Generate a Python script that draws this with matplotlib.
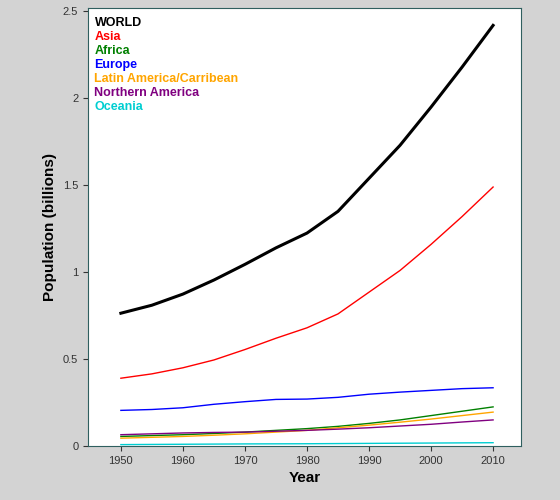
import matplotlib
matplotlib.use("Agg")
import matplotlib.pyplot as plt

plt.rcParams["font.family"] = ["Liberation Sans", "DejaVu Sans"]

years = [1950, 1955, 1960, 1965, 1970, 1975, 1980, 1985, 1990, 1995, 2000, 2005, 2010]
world = [0.764, 0.81, 0.874, 0.955, 1.045, 1.14, 1.225, 1.35, 1.54, 1.73, 1.95, 2.18, 2.42]
asia = [0.39, 0.415, 0.45, 0.495, 0.555, 0.62, 0.68, 0.76, 0.885, 1.01, 1.16, 1.32, 1.49]
africa = [0.055, 0.06, 0.065, 0.072, 0.08, 0.09, 0.10, 0.113, 0.13, 0.15, 0.175, 0.20, 0.225]
europe = [0.205, 0.21, 0.22, 0.24, 0.255, 0.268, 0.27, 0.28, 0.298, 0.31, 0.32, 0.33, 0.335]
latin = [0.045, 0.05, 0.055, 0.062, 0.07, 0.08, 0.09, 0.105, 0.12, 0.137, 0.155, 0.175, 0.195]
north_america = [0.065, 0.07, 0.075, 0.078, 0.08, 0.085, 0.09, 0.097, 0.105, 0.115, 0.125, 0.138, 0.15]
oceania = [0.008, 0.009, 0.01, 0.011, 0.012, 0.0125, 0.013, 0.014, 0.015, 0.016, 0.017, 0.018, 0.019]

series = [
    ("WORLD", world, "black", 2.2),
    ("Asia", asia, "red", 1.0),
    ("Africa", africa, "green", 1.0),
    ("Europe", europe, "blue", 1.0),
    ("Latin America/Carribean", latin, "orange", 1.0),
    ("Northern America", north_america, "purple", 1.0),
    ("Oceania", oceania, "darkturquoise", 1.0),
]

fig = plt.figure(figsize=(5.6, 5.0), dpi=100)
fig.patch.set_facecolor("#d3d3d3")
ax = fig.add_axes([88 / 560, 54 / 500, 433 / 560, 438 / 500])
ax.set_facecolor("white")

for name, vals, color, lw in series:
    ax.plot(years, vals, color=color, lw=lw)

ax.set_xlim(1944.7, 2014.5)
ax.set_ylim(0, 2.52)
ax.set_xticks([1950, 1960, 1970, 1980, 1990, 2000, 2010])
ax.set_yticks([0, 0.5, 1, 1.5, 2, 2.5])
ax.set_yticklabels(["0", "0.5", "1", "1.5", "2", "2.5"])
ax.tick_params(labelsize=8, colors="#333333")
for s in ax.spines.values():
    s.set_color("#2f5f5f")
ax.set_xlabel("Year", fontsize=11, fontweight="bold")
ax.set_ylabel("Population (billions)", fontsize=11, fontweight="bold")

for i, (name, vals, color, lw) in enumerate(series):
    ax.text(0.015, 0.98 - i * 0.032, name, transform=ax.transAxes, color=color,
            fontsize=9, fontweight="bold", va="top", ha="left")

fig.savefig("out.png", facecolor=fig.get_facecolor())
